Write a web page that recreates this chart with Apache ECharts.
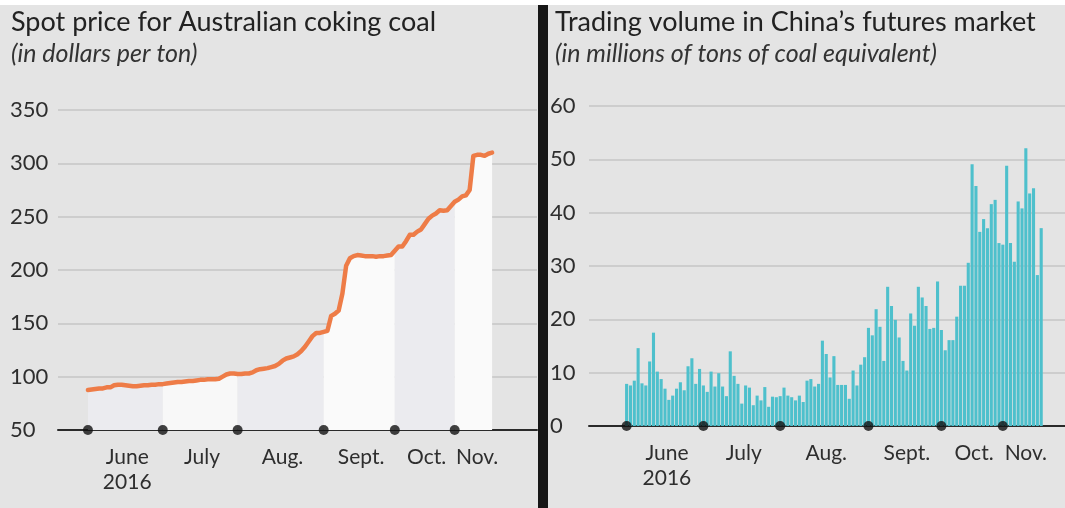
<!DOCTYPE html>
<html>
<head>
<meta charset="utf-8">
<script src="https://cdn.jsdelivr.net/npm/echarts@6/dist/echarts.min.js"></script>
<style>
  html, body { margin: 0; padding: 0; background: #e4e4e4; }
  #chart { width: 1065px; height: 508px; }
</style>
</head>
<body>
<div id="chart"></div>
<script>
// Month axis labels (trading-day axis, June 1 to mid-November 2016)
const monthTicks = ['June\n2016', 'July', 'Aug.', 'Sept.', 'Oct.', 'Nov.'];

// Spot price for Australian coking coal, US$ per ton, one value per trading day
const spotJune = [87.5, 88, 88.5, 89, 89, 90, 90, 92, 92.5, 92.5, 92, 91.5, 91, 91, 91.5, 92, 92, 92.5, 92.5, 93];
const spotJuly = [93, 93.5, 94, 94.5, 95, 95, 95.5, 96, 96, 96.5, 97, 97, 97.5, 97.5, 97.5, 98, 100, 102, 103, 103];
const spotAug  = [102.5, 102.5, 103, 103, 104, 106, 107, 107.5, 108, 109, 110, 112, 115, 117, 118, 119, 121, 124, 128, 133, 138, 141, 141];
const spotSept = [142, 143, 157, 159, 162, 178, 204, 211, 213, 214, 213.5, 213, 213, 213, 212.5, 213, 213, 213.5, 214];
const spotOct  = [218, 222, 222, 227, 233, 233, 236, 238, 243, 248, 251, 253, 256, 255.5, 256, 260];
const spotNov  = [264, 266, 269, 270, 275, 307, 308, 308, 307, 309, 310];

// Trading volume in China's coking coal futures, millions of tons of coal equivalent
const volJune = [7.9, 7.6, 8.5, 14.6, 8, 7.6, 12.1, 17.5, 10.2, 8.8, 7.0, 4.9, 5.7, 7.0, 8.2, 6.7, 11.2, 12.7, 7.9, 10.7];
const volJuly = [7.6, 6.4, 10.2, 7.4, 9.9, 7.4, 5.6, 14, 9.4, 7.9, 4.2, 7.6, 7.2, 3.9, 5.7, 4.8, 7.3, 3.6, 5.5, 5.4];
const volAug  = [5.6, 7.2, 5.7, 5.4, 4.8, 5.7, 4.5, 8.5, 8.8, 7.4, 7.9, 16, 13.5, 9.1, 13.1, 7.7, 7.7, 7.7, 5.1, 10.4, 7.6, 11.5, 12.9];
const volSept = [18.4, 17, 21.9, 18.6, 12.2, 26.1, 22.5, 19.9, 16.6, 12.2, 10.4, 21.1, 18.8, 26.1, 24.1, 22.5, 18.2, 18.4, 27.1];
const volOct  = [18, 14.2, 16.1, 16.1, 20.5, 26.3, 26.3, 30.6, 49.1, 45, 36.4, 38.8, 37.1, 41.6, 42.4, 34.3];
const volNov  = [34, 48.8, 34.3, 30.8, 42.1, 40.8, 52.1, 43.6, 44.6, 28.3, 37.1];

const spotByMonth = [spotJune, spotJuly, spotAug, spotSept, spotOct, spotNov];
const volByMonth = [volJune, volJuly, volAug, volSept, volOct, volNov];

// index of each month's first trading day
const monthStart = [];
let count = 0;
spotByMonth.forEach(m => { monthStart.push(count); count += m.length; });
const spot = spotByMonth.flat();
const volume = volByMonth.flat();
const lastIdx = spot.length - 1;

// month labels sit roughly mid-month
const labelAt = monthStart.map((s, k) => s + spotByMonth[k].length / 2 + 0.5);
const labelText = {};
labelAt.forEach((v, k) => { labelText[v] = monthTicks[k]; });

const FONT = 'Lato';
const bandColors = ['#ebebef', '#f8f8f8', '#ebebef', '#fafafa', '#ebebef', '#fafafa'];

// alternating month shading under the price line
const bandSeries = spotByMonth.map((m, k) => {
  const from = monthStart[k];
  const to = Math.min(from + m.length, lastIdx);
  const data = [];
  for (let i = from; i <= to; i++) data.push([i, spot[i]]);
  return {
    type: 'line', xAxisIndex: 0, yAxisIndex: 0, data,
    showSymbol: false, silent: true, z: 1,
    lineStyle: { width: 0 },
    areaStyle: { color: bandColors[k], opacity: 1, origin: 'start' }
  };
});

const xLabel = {
  customValues: labelAt,
  formatter: v => labelText[v] || '',
  color: '#2e2e2e', fontFamily: FONT, fontSize: 21, lineHeight: 25,
  margin: 15, verticalAlign: 'top'
};

const titleStyle = { fontFamily: FONT, fontSize: 27, fontWeight: 'normal', color: '#222' };
const subStyle = { fontFamily: FONT, fontSize: 25, fontStyle: 'italic', color: '#333' };

const option = {
  backgroundColor: '#e4e4e4',
  animation: false,
  title: [
    {
      text: 'Spot price for Australian coking coal',
      subtext: '(in dollars per ton)',
      left: 6, top: 4, itemGap: 5,
      textStyle: titleStyle, subtextStyle: subStyle
    },
    {
      text: 'Trading volume in China\u2019s futures market',
      subtext: '(in millions of tons of coal equivalent)',
      left: 550, top: 4, itemGap: 5,
      textStyle: titleStyle, subtextStyle: subStyle
    }
  ],
  grid: [
    { left: 58, width: 479, top: 110, height: 320 },
    { left: 589, width: 476, top: 106, height: 320 }
  ],
  xAxis: [
    {
      type: 'value', gridIndex: 0, min: -8, max: 120,
      splitLine: { show: false },
      axisLine: { show: true, onZero: false, lineStyle: { color: '#2a2a2a', width: 2 } },
      axisTick: { show: false },
      axisLabel: xLabel
    },
    {
      type: 'value', gridIndex: 1, min: -9.8, max: 114.2,
      splitLine: { show: false },
      axisLine: { show: true, onZero: false, lineStyle: { color: '#2a2a2a', width: 2 } },
      axisTick: { show: false },
      axisLabel: xLabel
    }
  ],
  yAxis: [
    {
      type: 'value', gridIndex: 0, min: 50, max: 350, interval: 50,
      axisLine: { show: false }, axisTick: { show: false },
      splitLine: { lineStyle: { color: '#c6c6c6', width: 1.5 } },
      axisLabel: { align: 'left', margin: 48, color: '#2e2e2e', fontFamily: FONT, fontSize: 22 }
    },
    {
      type: 'value', gridIndex: 1, min: 0, max: 60, interval: 10,
      axisLine: { show: false }, axisTick: { show: false },
      splitLine: { lineStyle: { color: '#c6c6c6', width: 1.5 } },
      axisLabel: { align: 'left', margin: 39, color: '#2e2e2e', fontFamily: FONT, fontSize: 22 }
    }
  ],
  series: [
    ...bandSeries,
    {
      type: 'line', xAxisIndex: 0, yAxisIndex: 0,
      data: spot.map((v, i) => [i, v]),
      showSymbol: false, z: 5,
      lineStyle: { color: '#ee7c47', width: 4.5, join: 'round', cap: 'round' }
    },
    {
      type: 'bar', xAxisIndex: 1, yAxisIndex: 1,
      data: volume.map((v, i) => [i, v]),
      barWidth: 3.1, z: 3,
      itemStyle: { color: '#4ec0cc' }
    },
    {
      type: 'scatter', xAxisIndex: 0, yAxisIndex: 0, clip: false, z: 10,
      symbolSize: 10, itemStyle: { color: '#111' },
      data: monthStart.map(i => [i, 50])
    },
    {
      type: 'scatter', xAxisIndex: 1, yAxisIndex: 1, clip: false, z: 10,
      symbolSize: 10, itemStyle: { color: '#111' },
      data: monthStart.map(i => [i, 0])
    }
  ],
  graphic: [
    { type: 'rect', z: 100, shape: { x: 538, y: 0, width: 10, height: 508 }, style: { fill: '#161616' } },
    { type: 'rect', z: 101, shape: { x: 0, y: 0, width: 1065, height: 5 }, style: { fill: '#ffffff' } }
  ]
};

const chart = echarts.init(document.getElementById('chart'), null, { renderer: 'canvas' });
chart.setOption(option);
</script>
</body>
</html>
